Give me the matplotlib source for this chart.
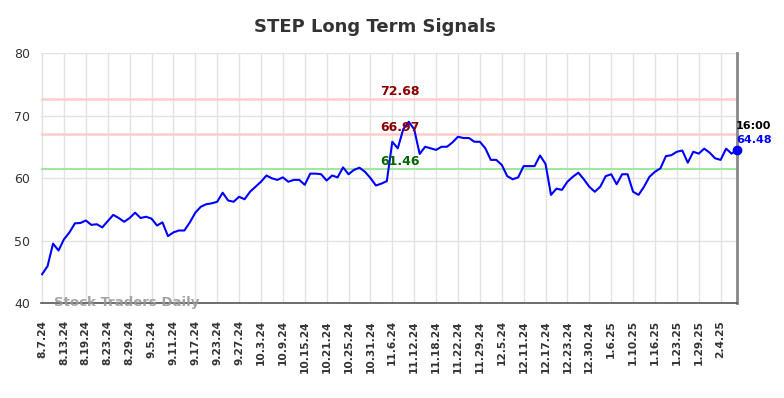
import numpy as np
import matplotlib
matplotlib.use('Agg')
import matplotlib.pyplot as plt

# Closing values, one per trading day (8.7.24 .. 2.7.25)
prices = [44.6, 45.9, 49.5, 48.4, 50.2, 51.3, 52.75, 52.8, 53.2, 52.5,
          52.6, 52.1, 53.1, 54.1, 53.6, 53.0, 53.6, 54.45, 53.6, 53.8,
          53.5, 52.4, 52.9, 50.7, 51.3, 51.6, 51.6, 52.9, 54.45, 55.4,
          55.8, 55.95, 56.2, 57.65, 56.4, 56.2, 57.0, 56.6, 57.8, 58.6,
          59.4, 60.4, 59.95, 59.7, 60.1, 59.4, 59.7, 59.7, 58.9, 60.7,
          60.7, 60.6, 59.6, 60.4, 60.1, 61.7, 60.6, 61.3, 61.65, 61.0,
          60.0, 58.8, 59.1, 59.5, 65.8, 64.75, 67.8, 69.0, 67.8, 63.85,
          65.0, 64.75, 64.5, 65.0, 65.0, 65.7, 66.6, 66.4, 66.4, 65.8,
          65.8, 64.75, 62.9, 62.9, 62.1, 60.3, 59.8, 60.1, 61.9, 61.9,
          61.9, 63.6, 62.25, 57.3, 58.3, 58.1, 59.4, 60.2, 60.85, 59.8,
          58.6, 57.8, 58.6, 60.3, 60.6, 59.0, 60.6, 60.6, 57.8, 57.3,
          58.6, 60.2, 61.0, 61.55, 63.5, 63.65, 64.2, 64.4, 62.45, 64.2,
          63.9, 64.7, 64.05, 63.15, 62.9, 64.7, 63.9, 64.48]

tick_labels = ['8.7.24', '8.13.24', '8.19.24', '8.23.24', '8.29.24', '9.5.24',
               '9.11.24', '9.17.24', '9.23.24', '9.27.24', '10.3.24', '10.9.24',
               '10.15.24', '10.21.24', '10.25.24', '10.31.24', '11.6.24',
               '11.12.24', '11.18.24', '11.22.24', '11.29.24', '12.5.24',
               '12.11.24', '12.17.24', '12.23.24', '12.30.24', '1.6.25',
               '1.10.25', '1.16.25', '1.23.25', '1.29.25', '2.4.25']

upper_levels = [72.68, 66.97]
lower_level = 61.46
last_time = '16:00'

x = np.arange(len(prices))

fig = plt.figure(figsize=(7.84, 3.98), dpi=100)
ax = fig.add_axes([0.0523, 0.2387, 0.8878, 0.6281])

ax.set_xlim(-0.2, len(prices) - 1)
ax.set_ylim(40, 80)

# grid
ax.set_xticks(x[::4])
ax.set_xticklabels(tick_labels, rotation=90, fontsize=7.7, fontweight='bold', color='#333333')
ax.set_yticks([40, 50, 60, 70, 80])
ax.tick_params(axis='y', labelsize=9, colors='#333333', length=0, pad=8)
ax.tick_params(axis='x', length=0, pad=12.5)
ax.grid(True, color='#e3e3e3', linewidth=1)
ax.set_axisbelow(True)

for s in ['left', 'top']:
    ax.spines[s].set_visible(False)
ax.spines['bottom'].set_color('#555555')
ax.spines['bottom'].set_linewidth(1.2)
ax.spines['right'].set_color('#888888')
ax.spines['right'].set_linewidth(2)

# level lines
mid = 65.4
for lv in upper_levels:
    ax.axhline(lv, color='#ffcccc', linewidth=1.8, zorder=1)
    ax.text(mid, lv + 1.15, f'{lv:.2f}', color='#8b0000', fontsize=9,
            fontweight='bold', ha='center', va='center', zorder=4)
ax.axhline(lower_level, color='#a0e8a0', linewidth=1.5, zorder=1)
ax.text(mid, lower_level + 1.25, f'{lower_level:.2f}', color='#006400', fontsize=9,
        fontweight='bold', ha='center', va='center', zorder=4)

# price line
ax.plot(x, prices, color='#0000ff', linewidth=1.5, zorder=3)
ax.plot(x[-1], prices[-1], 'o', color='#0000ff', markersize=6, zorder=5, clip_on=False)
ax.text(x[-1] - 0.2, prices[-1] + 3.85, last_time, color='black', fontsize=8,
        fontweight='bold', ha='left', va='center')
ax.text(x[-1] - 0.2, prices[-1] + 1.6, f'{prices[-1]:.2f}', color='#0000ff', fontsize=8,
        fontweight='bold', ha='left', va='center')

# watermark
ax.text(2.2, 40.0, 'Stock Traders Daily', color='#999999', fontsize=9.5,
        fontweight='bold', ha='left', va='center', alpha=0.9, zorder=6)

fig.suptitle('STEP Long Term Signals', x=0.478, y=0.955, fontsize=13,
             fontweight='bold', color='#333333')

fig.savefig('out.png', dpi=100)
